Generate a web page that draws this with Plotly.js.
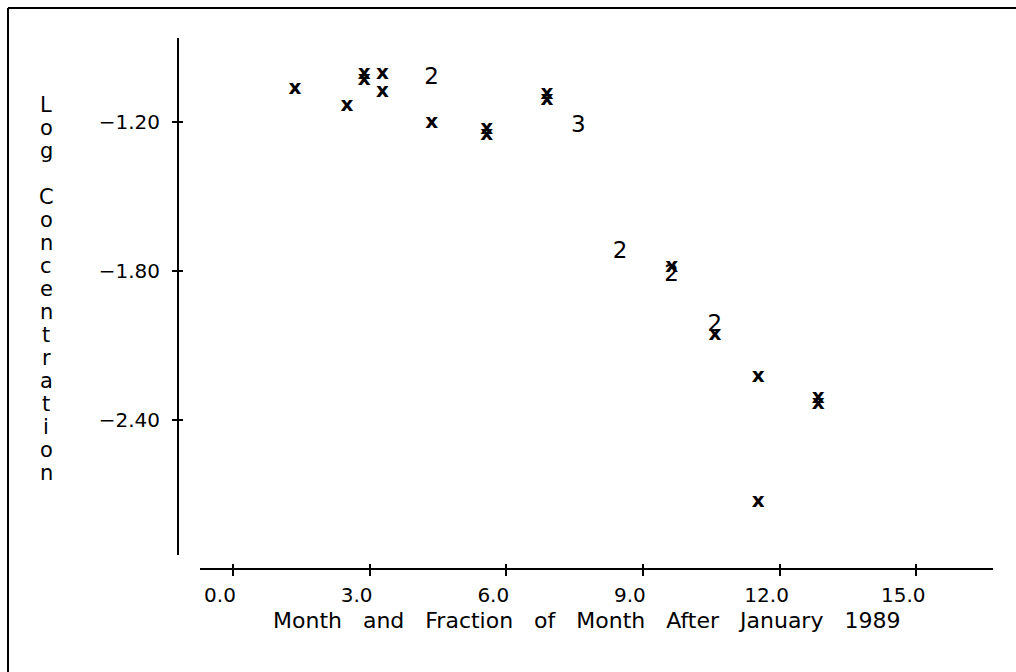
<!DOCTYPE html>
<html>
<head>
<meta charset="utf-8">
<script src="https://cdn.plot.ly/plotly-3.0.1.min.js"></script>
<style>html,body{margin:0;padding:0;background:#fff;}#chart{width:1016px;height:672px;}</style>
</head>
<body>
<div id="chart"></div>
<script>
// Single observations (plotted as "x")
const singleX = [1.36, 2.50, 3.28, 3.28, 4.36, 11.53, 11.53, 9.63, 10.58];
const singleY = [-1.069, -1.137, -1.008, -1.079, -1.206, -2.229, -2.730, -1.784, -2.059];
// Nearly coincident pairs (overprinted "x" marks)
const pairX = [2.88, 2.88, 5.57, 5.57, 6.89, 6.89, 12.85, 12.85];
const pairY = [-1.009, -1.033, -1.228, -1.254, -1.087, -1.112, -2.311, -2.337];
// Coincident observations (plotted as count digits)
const countX = [4.36, 7.58, 8.50, 9.63, 10.58];
const countY = [-1.025, -1.217, -1.724, -1.817, -2.019];
const countLabel = ["2", "3", "2", "2", "2"];
// Axis ticks
const xTicks = [0, 3, 6, 9, 12, 15];
const xTickText = ["0.0", "3.0", "6.0", "9.0", "12.0", "15.0"];
const yTicks = [-1.2, -1.8, -2.4];
const yTickText = ["\u22121.20", "\u22121.80", "\u22122.40"];
const xTitle = "Month and Fraction of Month After January 1989";
const yTitle = "Log Concentration";

const W = 1016, H = 672;
const px = v => v / W;
const py = v => 1 - v / H;
const FONT = "DejaVu Sans";
const xRange = [-0.724, 16.685];
const yRange = [-2.945, -0.863];

const traces = [
  {x: singleX, y: singleY, mode: "text", text: singleX.map(() => "x"),
   textposition: "middle center", textfont: {family: FONT, size: 20, color: "#000", weight: "bold"},
   hoverinfo: "x+y", showlegend: false},
  {x: pairX, y: pairY, mode: "text", text: pairX.map(() => "x"),
   textposition: "middle center", textfont: {family: FONT, size: 20, color: "#000", weight: "bold"},
   hoverinfo: "x+y", showlegend: false},
  {x: countX, y: countY, mode: "text", text: countLabel,
   textposition: "middle center", textfont: {family: FONT, size: 23, color: "#000"},
   hoverinfo: "x+y", showlegend: false},
  {x: [], y: [], xaxis: "x2", yaxis: "y2", mode: "markers", showlegend: false, hoverinfo: "skip"}
];

const spaced = xTitle.split(" ").join("\u00a0\u00a0\u00a0");

const annotations = [
  {text: spaced, xref: "paper", yref: "paper", x: px(586), y: py(620),
   xanchor: "center", yanchor: "middle", showarrow: false,
   font: {family: FONT, size: 22, color: "#000"}}
];
const letters = yTitle.split("");
letters.forEach((ch, i) => {
  if (ch === " ") return;
  annotations.push({text: ch, xref: "paper", yref: "paper", x: px(46), y: py(105 + i * 23),
    xanchor: "center", yanchor: "middle", showarrow: false,
    font: {family: FONT, size: 21, color: "#000"}});
});

const axisCommon = {showgrid: false, zeroline: false, fixedrange: true};
const layout = {
  width: W, height: H,
  margin: {l: 0, r: 0, t: 0, b: 0, autoexpand: false},
  paper_bgcolor: "#fff", plot_bgcolor: "#fff",
  showlegend: false,
  xaxis: Object.assign({}, axisCommon, {
    domain: [px(200), px(993)], anchor: "free", position: py(569),
    range: xRange, tickmode: "array", tickvals: xTicks, ticktext: xTickText,
    ticks: "outside", ticklen: 6, tickwidth: 2, tickcolor: "#000",
    showline: true, linewidth: 2, linecolor: "#000",
    tickfont: {family: FONT, size: 20, color: "#000"},
    ticklabelshift: -13, ticklabelstandoff: 2
  }),
  xaxis2: Object.assign({}, axisCommon, {
    overlaying: "x", anchor: "free", position: py(569),
    range: xRange, tickmode: "array", tickvals: xTicks,
    ticks: "inside", ticklen: 5, tickwidth: 2, tickcolor: "#000",
    showline: false, showticklabels: false
  }),
  yaxis: Object.assign({}, axisCommon, {
    domain: [py(555), py(38)], anchor: "free", position: px(178),
    range: yRange, tickmode: "array", tickvals: yTicks, ticktext: yTickText,
    ticks: "outside", ticklen: 5, tickwidth: 2, tickcolor: "#000",
    showline: true, linewidth: 2, linecolor: "#000",
    tickfont: {family: FONT, size: 20, color: "#000"},
    ticklabelstandoff: 8
  }),
  yaxis2: Object.assign({}, axisCommon, {
    overlaying: "y", anchor: "free", position: px(178), side: "left",
    range: yRange, tickmode: "array", tickvals: yTicks,
    ticks: "inside", ticklen: 4, tickwidth: 2, tickcolor: "#000",
    showline: false, showticklabels: false
  }),
  annotations: annotations,
  shapes: [
    {type: "line", xref: "paper", yref: "paper", x0: px(8), x1: px(8), y0: py(8), y1: py(672),
     line: {color: "#000", width: 2}},
    {type: "line", xref: "paper", yref: "paper", x0: px(8), x1: px(1016), y0: py(8), y1: py(8),
     line: {color: "#000", width: 2}}
  ]
};

Plotly.newPlot("chart", traces, layout, {displayModeBar: false, staticPlot: true});
</script>
</body>
</html>
